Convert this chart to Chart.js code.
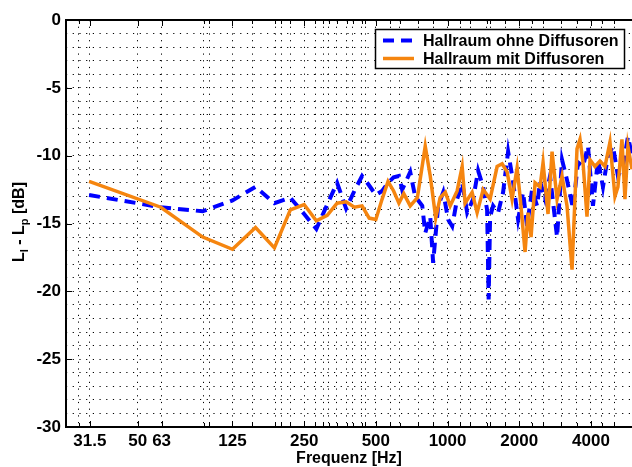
<!DOCTYPE html>
<html>
<head>
<meta charset="utf-8">
<script src="https://cdn.jsdelivr.net/npm/chart.js@4.4.1/dist/chart.umd.min.js"></script>
<style>
  html, body { margin: 0; padding: 0; background: #fff; }
  canvas { display: block; }
</style>
</head>
<body>
<canvas id="chart" width="632" height="467"></canvas>
<script>
const FONT = '"Liberation Sans", Arial, Helvetica, sans-serif'
Chart.defaults.font.family = FONT
Chart.defaults.font.size = 16
Chart.defaults.font.weight = 'bold'
Chart.defaults.color = '#000'

// labelled frequencies and the extra dotted grid lines
const labelFreqs = [31.5, 50, 63, 125, 250, 500, 1000, 2000, 4000]
const gridFreqs = [28.3, 94.7, 100, 151, 189, 200, 218.8, 278.5, 300, 316.7, 343.4, 378, 400, 437, 451,
    574.6, 630, 755, 873, 1130, 1244, 1462, 1509, 1744, 2258, 2525, 3000, 3486, 4439, 5000]

// Hallraum ohne Diffusoren
const freqOhne = [31.25, 62.5, 93.75, 125, 156.25, 187.5, 218.75, 250, 281.25, 312.5, 343.75, 375, 406.25,
    437.5, 468.75, 500, 531.25, 562.5, 593.75, 625, 645, 697, 731, 783, 806, 846, 870, 913, 959, 1006, 1046,
    1097, 1152, 1209, 1281, 1344, 1411, 1466, 1488, 1509, 1554, 1630, 1711, 1796, 1884, 1978, 2076, 2157,
    2264, 2376, 2446, 2567, 2694, 2883, 3025, 3175, 3364, 3530, 3705, 3888, 4080, 4282, 4494, 4716, 4949,
    5194, 5451, 5721, 5950]
const ohne = [-12.9, -13.8, -14.1, -13.3, -12.3, -13.5, -13.1, -14.3, -15.4, -13.6, -12.0, -13.9, -12.6,
    -11.5, -12.2, -12.9, -12.6, -12.0, -11.6, -11.5, -12.5, -11.2, -13.0, -13.7, -15.7, -14.5, -17.9, -13.7,
    -12.7, -14.7, -15.2, -13.2, -12.0, -14.2, -13.2, -11.1, -12.3, -14.0, -20.6, -14.5, -13.7, -14.2, -12.7,
    -9.7, -11.9, -14.7, -12.7, -15.2, -12.5, -13.7, -11.9, -13.2, -11.5, -16.0, -10.3, -11.8, -13.9, -10.5,
    -10.8, -9.3, -13.7, -10.3, -12.3, -10.0, -9.3, -11.5, -10.8, -8.6, -10.0]

// Hallraum mit Diffusoren
const freqMit = [31.25, 62.5, 93.75, 125, 156.25, 187.5, 218.75, 250, 281.25, 312.5, 343.75, 375, 406.25,
    437.5, 468.75, 500, 531.25, 562.5, 593.75, 625, 655, 697, 747, 806, 846, 892, 931, 979, 1026, 1097, 1152,
    1185, 1268, 1331, 1411, 1509, 1615, 1695, 1779, 1866, 1959, 2016, 2116, 2178, 2242, 2331, 2446, 2518,
    2642, 2747, 2883, 3025, 3175, 3332, 3496, 3599, 3705, 3851, 3964, 4160, 4366, 4582, 4808, 5046, 5194,
    5399, 5558, 5721, 5950]
const mit = [-11.9, -13.8, -16.0, -16.9, -15.3, -16.8, -14.0, -13.6, -14.8, -14.4, -13.5, -13.4, -13.8,
    -13.7, -14.6, -14.7, -13.2, -11.9, -12.6, -13.5, -12.8, -13.7, -13.1, -9.3, -11.5, -14.6, -13.1, -12.7,
    -13.7, -12.6, -10.8, -13.5, -12.7, -14.2, -12.5, -13.2, -10.8, -10.6, -11.2, -13.2, -10.9, -13.0, -17.1,
    -14.2, -16.0, -12.0, -12.3, -10.5, -14.3, -9.7, -13.2, -11.5, -13.7, -18.4, -9.5, -8.8, -10.5, -14.5,
    -10.3, -10.8, -10.4, -10.8, -9.0, -13.0, -12.3, -8.8, -13.2, -9.3, -11.0]


const toPoints = (xs, ys) => xs.map((f, i) => ({ x: f, y: ys[i] }))


// frame with inward ticks, y title with subscripts, boxed legend
const frame = {
    id: 'frame',
    afterDraw(chart) {
        const { ctx, chartArea: a, scales: { x, y } } = chart
        ctx.save()

        ctx.strokeStyle = '#000'
        ctx.lineWidth = 1
        ctx.beginPath()
        x.ticks.forEach(t => {
            const px = Math.round(x.getPixelForValue(t.value)) + 0.5
            const len = labelFreqs.includes(t.value) ? 6 : 4
            ctx.moveTo(px, a.bottom); ctx.lineTo(px, a.bottom - len)
            ctx.moveTo(px, a.top); ctx.lineTo(px, a.top + len)
        })
        y.ticks.forEach(t => {
            if (t.value % 5 !== 0) return
            const py = Math.round(y.getPixelForValue(t.value)) + 0.5
            ctx.moveTo(a.left, py); ctx.lineTo(a.left + 6, py)
        })
        ctx.stroke()

        ctx.lineWidth = 2
        ctx.beginPath()
        ctx.moveTo(a.right + 2, a.top)
        ctx.lineTo(a.left, a.top)
        ctx.lineTo(a.left, a.bottom)
        ctx.lineTo(a.right + 2, a.bottom)
        ctx.stroke()

        // y axis title: L_I - L_p [dB]
        ctx.save()
        ctx.translate(23.5, 262)
        ctx.rotate(-Math.PI / 2)
        ctx.fillStyle = '#000'
        ctx.textBaseline = 'alphabetic'
        let cx = 0
        const parts = [['L', 16, 0], ['I', 11, 4], [' - L', 16, 0], ['p', 11, 4], [' [dB]', 16, 0]]
        parts.forEach(([s, size, dy]) => {
            ctx.font = `bold ${size}px ${FONT}`
            ctx.fillText(s, cx, dy)
            cx += ctx.measureText(s).width
        })
        ctx.restore()

        // legend
        ctx.fillStyle = '#fff'
        ctx.fillRect(375, 29, 250, 40)
        ctx.lineWidth = 1.5
        ctx.strokeStyle = '#000'
        ctx.strokeRect(375.5, 29.5, 249, 39)
        chart.data.datasets.forEach((ds, i) => {
            const yy = 40.5 + i * 18
            ctx.strokeStyle = ds.borderColor
            ctx.lineWidth = ds.borderWidth
            ctx.setLineDash(ds.borderDash || [])
            ctx.beginPath()
            ctx.moveTo(383, yy); ctx.lineTo(414, yy)
            ctx.stroke()
            ctx.setLineDash([])
            ctx.fillStyle = '#000'
            ctx.font = `bold 16px ${FONT}`
            ctx.textBaseline = 'middle'
            ctx.fillText(ds.label, 423, yy + 1)
        })

        ctx.restore()
    }
}


const data = {
    datasets: [
        {
            label: 'Hallraum ohne Diffusoren',
            data: toPoints(freqOhne, ohne),
            borderColor: '#0000ff',
            borderWidth: 4,
            borderDash: [11, 7],
            pointRadius: 0,
            tension: 0,
            order: 1
        },
        {
            label: 'Hallraum mit Diffusoren',
            data: toPoints(freqMit, mit),
            borderColor: '#f5850f',
            borderWidth: 3.5,
            pointRadius: 0,
            tension: 0,
            order: 0
        }
    ]
}

const options = {
    responsive: false,
    animation: false,
    layout: { padding: { top: 20, right: 0, left: 0, bottom: 0 } },
    plugins: {
        legend: { display: false },
        tooltip: { enabled: false }
    },
    scales: {
        x: {
            type: 'logarithmic',
            min: 25,
            max: 5950,
            afterBuildTicks: scale => {
                scale.ticks = [...labelFreqs, ...gridFreqs].sort((a, b) => a - b).map(v => ({ value: v }))
            },
            afterFit: scale => { scale.height = 40 },
            ticks: {
                autoSkip: false,
                maxRotation: 0,
                padding: 4,
                font: { size: 17 },
                callback: v => labelFreqs.includes(v) ? String(v) : ''
            },
            grid: { color: '#000', lineWidth: 1, drawTicks: false },
            border: { display: false, dash: [1.2, 5.5] },
            title: {
                display: true,
                text: 'Frequenz [Hz]',
                font: { size: 16, weight: 'bold', lineHeight: 1 },
                padding: 0
            }
        },
        y: {
            min: -30,
            max: 0,
            afterFit: scale => { scale.width = 66 },
            ticks: {
                stepSize: 1,
                autoSkip: false,
                padding: 5,
                font: { size: 17 },
                callback: v => v % 5 === 0 ? String(v) : ''
            },
            grid: { color: '#000', lineWidth: 1, drawTicks: false },
            border: { display: false, dash: [1.2, 5.5] }
        }
    }
}

new Chart('chart', { type: 'line', data, options, plugins: [frame] })
</script>
</body>
</html>
